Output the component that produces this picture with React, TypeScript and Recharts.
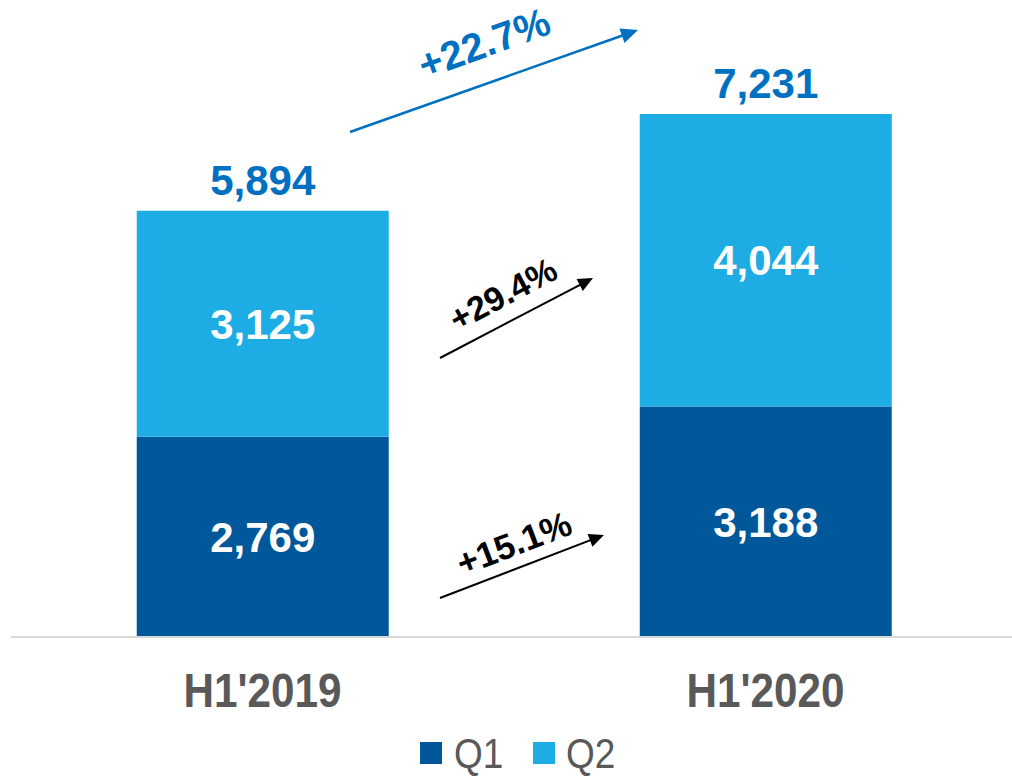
import React from "react";
import { BarChart, Bar, XAxis, YAxis, Legend, LabelList } from "recharts";

const categories = ["H1'2019", "H1'2020"];
const q1Values = [2769, 3188];
const q2Values = [3125, 4044];
const totals = [5894, 7231];
const seriesNames = ["Q1", "Q2"];

const data = categories.map((name, i) => ({ name, q1: q1Values[i], q2: q2Values[i], total: totals[i] }));

const Q1_COLOR = "#00589A";
const Q2_COLOR = "#1DACE3";
const BLUE_TEXT = "#0070C0";
const GRAY = "#595959";
const SANS = "'Liberation Sans', Arial, sans-serif";

const fmt = (v: number) => v.toLocaleString("en-US");

function Arrow({ x1, y1, x2, y2, color, width, head }: any) {
  const dx = x2 - x1, dy = y2 - y1;
  const len = Math.sqrt(dx * dx + dy * dy);
  const ux = dx / len, uy = dy / len;
  const bx = x2 - ux * head, by = y2 - uy * head;
  const px = -uy, py = ux;
  const hw = head * 0.45;
  return (
    <g>
      <line x1={x1} y1={y1} x2={bx + ux * 2} y2={by + uy * 2} stroke={color} strokeWidth={width} />
      <polygon points={`${x2},${y2} ${bx + px * hw},${by + py * hw} ${bx - px * hw},${by - py * hw}`} fill={color} />
    </g>
  );
}

function Note({ x, y, angle, size, color, text }: any) {
  return (
    <text x={x} y={y} transform={`rotate(${angle} ${x} ${y})`} textAnchor="middle" dominantBaseline="central"
      fontFamily={SANS} fontWeight="bold" fontSize={size} fill={color}>{text}</text>
  );
}

const CatTick = (props: any) => {
  const { x, y, payload } = props;
  return (
    <text transform={`translate(${x} ${y + 62}) scale(0.88 1)`} x={0} y={0} textAnchor="middle" fontFamily={SANS} fontWeight="bold" fontSize={48} fill={GRAY}>
      {payload.value}
    </text>
  );
};

const TotalLabel = (props: any) => {
  const { x, y, width, index } = props;
  return (
    <text x={x + width / 2} y={y - 16} textAnchor="middle" fontFamily={SANS} fontWeight="bold" fontSize={42} fill={BLUE_TEXT}>
      {fmt(totals[index])}
    </text>
  );
};

const LegendContent = () => (
  <div style={{ display: "flex", justifyContent: "center", alignItems: "center", height: 60, paddingLeft: 12, paddingTop: 12, boxSizing: "border-box" }}>
    {seriesNames.map((n, i) => (
      <div key={n} style={{ display: "flex", alignItems: "center", marginRight: i === 0 ? 28 : 0 }}>
        <div style={{ width: 22, height: 22, background: i === 0 ? Q1_COLOR : Q2_COLOR, marginRight: i === 0 ? 12 : 11 }} />
        <span style={{ display: "inline-block", width: i === 0 ? 51 : 55, whiteSpace: "nowrap", fontFamily: SANS, fontSize: 43, color: GRAY, lineHeight: "34px", transform: "scaleX(0.86)", transformOrigin: "left center" }}>{n}</span>
      </div>
    ))}
  </div>
);

export default function App() {
  return (
    <div style={{ position: "absolute", left: 0, top: 0, width: 1012, height: 777, overflow: "hidden", background: "#fff" }}>
      <BarChart width={1020} height={777} data={data} margin={{ top: 58.4, right: 3, left: 11, bottom: 0 }} barCategoryGap="25%">
        <XAxis dataKey="name" axisLine={{ stroke: "#D9D9D9", strokeWidth: 2 }} tickLine={false} tick={<CatTick />} height={80} interval={0} />
        <YAxis hide domain={[0, 8000]} />
        <Legend content={<LegendContent />} verticalAlign="bottom" height={60} />
        <Bar dataKey="q1" stackId="a" fill={Q1_COLOR} isAnimationActive={false}>
          <LabelList dataKey="q1" position="center" formatter={(v: any) => fmt(v)} fill="#FFFFFF" fontFamily={SANS} fontWeight="bold" fontSize={42} />
        </Bar>
        <Bar dataKey="q2" stackId="a" fill={Q2_COLOR} isAnimationActive={false}>
          <LabelList dataKey="q2" position="center" formatter={(v: any) => fmt(v)} fill="#FFFFFF" fontFamily={SANS} fontWeight="bold" fontSize={42} />
          <LabelList dataKey="total" content={<TotalLabel />} />
        </Bar>
      </BarChart>
      <svg width={1012} height={777} style={{ position: "absolute", left: 0, top: 0, pointerEvents: "none" }}>
        <Arrow x1={350} y1={132} x2={638} y2={30} color={BLUE_TEXT} width={2.5} head={17} />
        <Note x={484} y={43} angle={-20} size={40} color={BLUE_TEXT} text="+22.7%" />
        <Arrow x1={440} y1={358} x2={593} y2={278} color="#000" width={2} head={15} />
        <Note x={503} y={294} angle={-28} size={34} color="#000" text="+29.4%" />
        <Arrow x1={440} y1={598} x2={604} y2={535} color="#000" width={2} head={15} />
        <Note x={514} y={543} angle={-21} size={35} color="#000" text="+15.1%" />
      </svg>
    </div>
  );
}
